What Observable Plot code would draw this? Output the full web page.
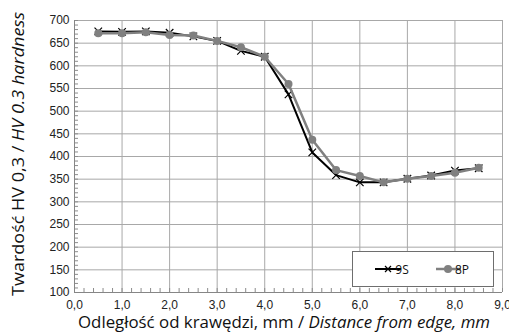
<!DOCTYPE html>
<html>
<head>
<meta charset="utf-8">
<script src="https://cdn.jsdelivr.net/npm/d3@7"></script>
<script src="https://cdn.jsdelivr.net/npm/@observablehq/plot@0.6"></script>
<style>
  html, body { margin: 0; padding: 0; background: #fff; }
  #chart { width: 509px; height: 333px; }
</style>
</head>
<body>
<div id="chart"></div>
<script>
const distance = [0.5, 1.0, 1.5, 2.0, 2.5, 3.0, 3.5, 4.0, 4.5, 5.0, 5.5, 6.0, 6.5, 7.0, 7.5, 8.0, 8.5];
const hardness9S = [676, 675, 676, 673, 665, 655, 633, 620, 537, 409, 359, 343, 343, 351, 358, 369, 374];
const hardness8P = [672, 672, 674, 668, 667, 655, 641, 620, 560, 437, 370, 357, 343, 351, 357, 364, 375];
const seriesNames = ["9S", "8P"];
const xTicks = [0, 1, 2, 3, 4, 5, 6, 7, 8, 9];
const yTicks = [100, 150, 200, 250, 300, 350, 400, 450, 500, 550, 600, 650, 700];

const s9 = distance.map((x, i) => ({x, y: hardness9S[i]}));
const s8 = distance.map((x, i) => ({x, y: hardness8P[i]}));
const minorX = d3.range(0, 9.001, 0.2);
const minorY = d3.range(100, 700.1, 10);

const chart = Plot.plot({
  width: 509,
  height: 333,
  marginLeft: 74,
  marginRight: 7,
  marginTop: 20,
  marginBottom: 41,
  style: {fontFamily: "Liberation Sans, Arial, sans-serif", fontSize: "12px", color: "#222", background: "#fff"},
  x: {domain: [0, 9]},
  y: {domain: [100, 700]},
  marks: [
    Plot.gridX(xTicks.slice(1), {stroke: "#a8a8a8", strokeOpacity: 1, strokeWidth: 1}),
    Plot.gridY(yTicks.slice(1), {stroke: "#a8a8a8", strokeOpacity: 1, strokeWidth: 1}),
    Plot.axisX(minorX, {tickSize: -4, text: null, stroke: "#8c8c8c", label: null}),
    Plot.axisY(minorY, {tickSize: -4, text: null, stroke: "#8c8c8c", label: null}),
    Plot.axisX(xTicks, {tickSize: 0, tickPadding: 8, tickFormat: d => d.toFixed(1).replace(".", ","), label: null, fill: "#222", fontSize: 12}),
    Plot.axisY(yTicks, {tickSize: 0, tickPadding: 5, label: null, fill: "#222", fontSize: 12}),
    Plot.ruleX([0], {stroke: "#868686"}),
    Plot.ruleY([100], {stroke: "#868686"}),
    Plot.line(s9, {x: "x", y: "y", stroke: "#000", strokeWidth: 2}),
    Plot.dot(s9, {x: "x", y: "y", symbol: "times", r: 3.5, stroke: "#000", strokeWidth: 1.2}),
    Plot.line(s8, {x: "x", y: "y", stroke: "#808080", strokeWidth: 2.5}),
    Plot.dot(s8, {x: "x", y: "y", symbol: "circle", r: 4, fill: "#808080", stroke: "none"})
  ]
});
document.getElementById("chart").appendChild(chart);

const svg = d3.select(chart);
// Axis titles with italic English part
const titleFont = "Open Sans, sans-serif";
const yt = svg.append("text")
  .attr("transform", "translate(24,154) rotate(-90)")
  .attr("text-anchor", "middle")
  .attr("font-family", titleFont)
  .attr("font-size", 16.5)
  .attr("textLength", 284)
  .attr("lengthAdjust", "spacingAndGlyphs")
  .attr("fill", "#111");
yt.append("tspan").text("Twardość HV 0,3 / ");
yt.append("tspan").attr("font-style", "italic").text("HV 0.3 hardness");

const xt = svg.append("text")
  .attr("x", 284)
  .attr("y", 328)
  .attr("text-anchor", "middle")
  .attr("font-family", titleFont)
  .attr("font-size", 16)
  .attr("textLength", 412)
  .attr("lengthAdjust", "spacingAndGlyphs")
  .attr("fill", "#111");
xt.append("tspan").text("Odległość od krawędzi, mm / ");
xt.append("tspan").attr("font-style", "italic").text("Distance from edge, mm");

// Legend
const lg = svg.append("g");
lg.append("rect").attr("x", 352.5).attr("y", 251.5).attr("width", 141).attr("height", 35)
  .attr("fill", "#fff").attr("stroke", "#6e6e6e").attr("stroke-width", 1);
const ly = 269;
lg.append("line").attr("x1", 375).attr("x2", 401).attr("y1", ly).attr("y2", ly).attr("stroke", "#000").attr("stroke-width", 2);
lg.append("path").attr("d", `M${385},${ly-3}L${391},${ly+3}M${385},${ly+3}L${391},${ly-3}`).attr("stroke", "#000").attr("stroke-width", 1.2);
lg.append("text").attr("x", 402).attr("y", ly + 4.5).attr("font-family", "Open Sans, sans-serif").attr("font-size", 12).attr("fill", "#111").text(seriesNames[0]);
lg.append("line").attr("x1", 436).attr("x2", 461).attr("y1", ly).attr("y2", ly).attr("stroke", "#808080").attr("stroke-width", 2.5);
lg.append("circle").attr("cx", 448).attr("cy", ly).attr("r", 4).attr("fill", "#808080");
lg.append("text").attr("x", 462).attr("y", ly + 4.5).attr("font-family", "Open Sans, sans-serif").attr("font-size", 12).attr("fill", "#111").text(seriesNames[1]);
</script>
</body>
</html>
